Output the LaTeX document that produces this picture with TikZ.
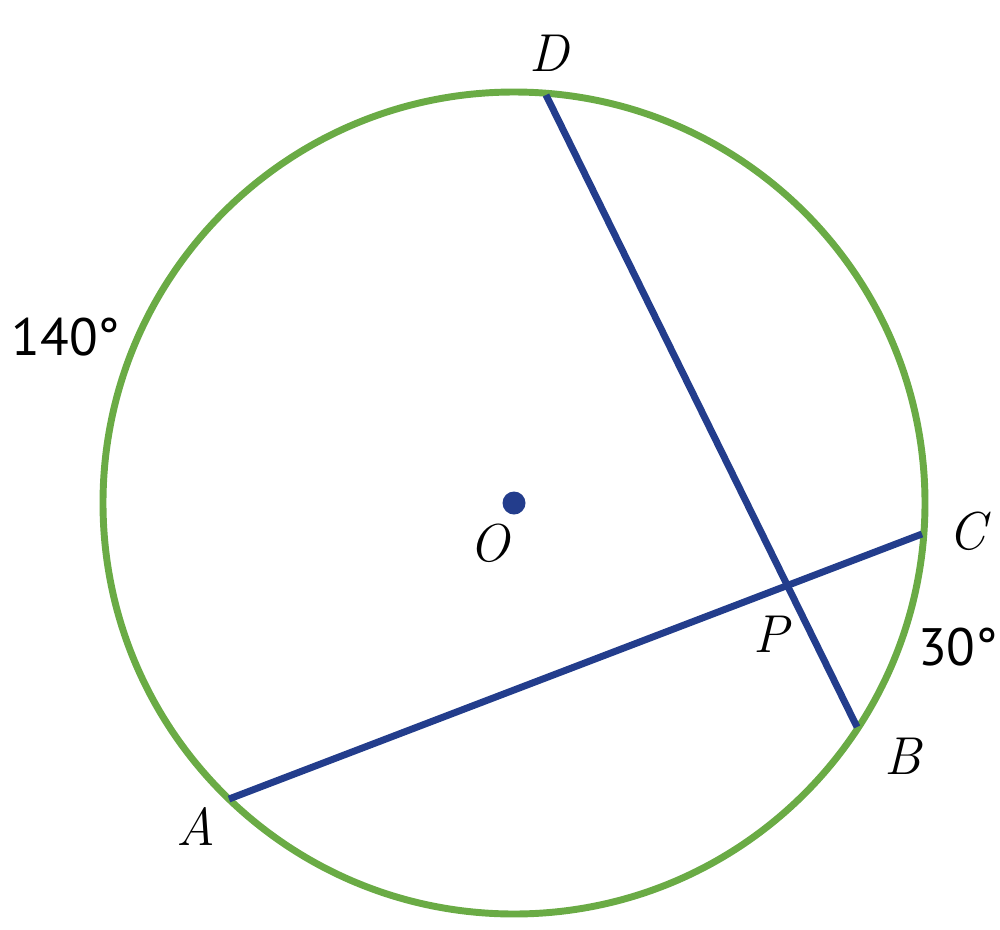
\documentclass[tikz,border=0pt]{standalone}
\usepackage{fontspec}
\newfontfamily\degfont{PT Sans}
\usepackage{tikz}

\definecolor{arcgreen}{RGB}{106,171,69}
\definecolor{chordblue}{RGB}{35,61,140}

\tikzset{
  ptlabel/.style={font=\itshape\fontsize{40}{48}\selectfont},
  arclabel/.style={font=\degfont\fontsize{39.5}{48}\selectfont},
  chord/.style={draw=chordblue,line width=5.2pt},
}

\begin{document}
\begin{tikzpicture}[x=0.75pt,y=0.75pt,yscale=-1,xscale=1]
\useasboundingbox (0,0) rectangle (1000,929);

% Circle
\draw[arcgreen,line width=5.2pt] (514,503) circle [radius=411];
% Points on circle
\coordinate (A) at (229,799);
\coordinate (B) at (857,727);
\coordinate (C) at (922,534);
\coordinate (D) at (546,95);
\coordinate (P) at (intersection of A--C and D--B);
% Center
\fill[chordblue] (514,503) circle [radius=11.5];

% Connection
\draw[chord]    (A) -- (C) ;
% Connection
\draw[chord]    (D) -- (B) ;

% Text Node
\node[ptlabel] (lA) at (196,826) {A};
% Text Node
\node[ptlabel] (lB) at (903,756) {B};
% Text Node
\node[ptlabel] (lC) at (967,531) {C};
% Text Node
\node[ptlabel] (lD) at (549,53) {D};
% Text Node
\node[ptlabel] (lO) at (489,543) {O};
% Text Node
\node[ptlabel] (lP) at (771,634) {P};
% Text Node
\node[arclabel] (big) at (66,337) {140°};
% Text Node
\node[arclabel] (small) at (958,647) {30°};

\end{tikzpicture}
\end{document}
